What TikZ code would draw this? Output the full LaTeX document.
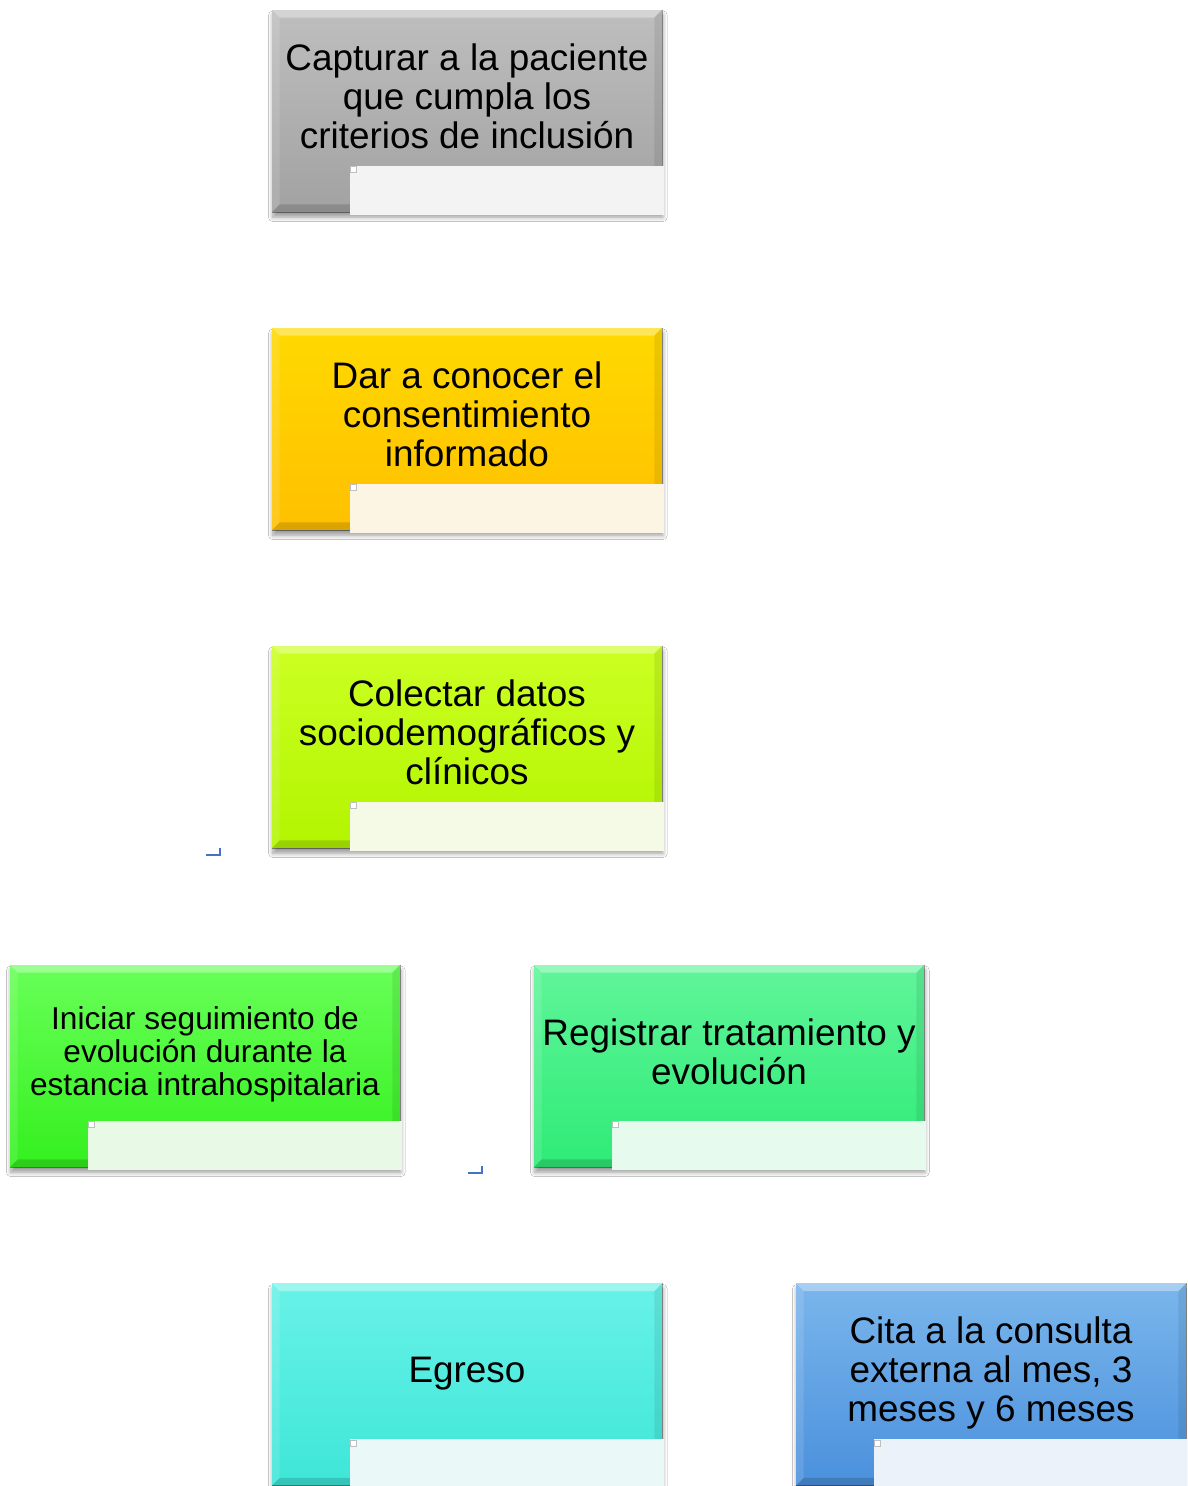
\documentclass[tikz,border=0pt]{standalone}
\usepackage{fontspec}
\setmainfont{Liberation Sans}
\usetikzlibrary{shadows.blur}
\definecolor{markblue}{HTML}{4472C4}
\definecolor{gtop}{HTML}{BEBEBE}\definecolor{gbot}{HTML}{A2A2A2}\definecolor{gcov}{HTML}{F3F3F3}
\definecolor{otop}{HTML}{FFD900}\definecolor{obot}{HTML}{FFC000}\definecolor{ocov}{HTML}{FCF5E3}
\definecolor{ytop}{HTML}{CCFF22}\definecolor{ybot}{HTML}{B2F500}\definecolor{ycov}{HTML}{F4FAE6}
\definecolor{ltop}{HTML}{68FF58}\definecolor{lbot}{HTML}{34F01E}\definecolor{lcov}{HTML}{E8FAE6}
\definecolor{mtop}{HTML}{60F59A}\definecolor{mbot}{HTML}{2EEB76}\definecolor{mcov}{HTML}{E6FAEE}
\definecolor{ttop}{HTML}{68F2E8}\definecolor{tbot}{HTML}{3EE6D8}\definecolor{tcov}{HTML}{EAF9F8}
\definecolor{btop}{HTML}{7AB6EC}\definecolor{bbot}{HTML}{4A90DC}\definecolor{bcov}{HTML}{EBF2FA}
\tikzset{
  boxbase/.style={rectangle, minimum width=7.8cm, minimum height=4.04cm, inner sep=0pt,
    blur shadow={shadow xshift=0.5pt, shadow yshift=-3pt, shadow blur radius=2.5pt, shadow blur steps=6, shadow opacity=40}},
  bigtxt/.style={align=center, font=\fontsize{21}{22.1}\selectfont, inner sep=0pt},
  smalltxt/.style={align=center, font=\fontsize{18}{18.7}\selectfont, inner sep=0pt},
  cornermark/.style={draw=markblue, line width=1.2pt},
}
\newcommand\bevelbox[1]{%
  \fill[white,opacity=.35] (#1.north west) -- (#1.north east) -- ([xshift=-0.16cm,yshift=-0.16cm]#1.north east) -- ([xshift=0.16cm,yshift=-0.16cm]#1.north west) -- cycle;
  \fill[white,opacity=.12] (#1.north west) -- ([xshift=0.16cm,yshift=-0.16cm]#1.north west) -- ([xshift=0.16cm,yshift=0.16cm]#1.south west) -- (#1.south west) -- cycle;
  \fill[black,opacity=.14] (#1.south west) -- (#1.south east) -- ([xshift=-0.16cm,yshift=0.16cm]#1.south east) -- ([xshift=0.16cm,yshift=0.16cm]#1.south west) -- cycle;
  \fill[black,opacity=.08] (#1.north east) -- ([xshift=-0.16cm,yshift=-0.16cm]#1.north east) -- ([xshift=-0.16cm,yshift=0.16cm]#1.south east) -- (#1.south east) -- cycle;
  \draw[black,opacity=.35,line width=0.8pt] (#1.north east) -- (#1.south east) -- (#1.south west);
}
\newcommand\flowbox[8]{%
  \node[boxbase, top color=#4, bottom color=#5] (#1) at (#2,#3) {};
  \bevelbox{#1}
  \node[#7] (#1t) at ([yshift=0.3cm]#1.center) {#8};
  \fill[#6] ([xshift=1.56cm,yshift=-3.12cm]#1.north west) rectangle ([xshift=0.04cm,yshift=-0.06cm]#1.south east);
  \draw[black!25, fill=white, line width=0.3pt] ([xshift=1.58cm,yshift=-3.14cm]#1.north west) rectangle +(0.12cm,-0.12cm);
}
\begin{document}
\begin{tikzpicture}[x=0.02cm,y=-0.02cm]
\useasboundingbox (0,0) rectangle (1187,1486);
\fill[white] (0,0) rectangle (1187,1486);
\clip (0,0) rectangle (1187,1486);

\flowbox{b1}{467}{111}{gtop}{gbot}{gcov}{bigtxt}{Capturar a la paciente\\que cumpla los\\criterios de inclusión}
\flowbox{b2}{467}{429}{otop}{obot}{ocov}{bigtxt}{Dar a conocer el\\consentimiento\\informado}
\flowbox{b3}{467}{747}{ytop}{ybot}{ycov}{bigtxt}{Colectar datos\\sociodemográficos y\\clínicos}
\flowbox{b4}{205}{1066}{ltop}{lbot}{lcov}{smalltxt,yshift=-0.06cm}{Iniciar seguimiento de\\evolución durante la\\estancia intrahospitalaria}
\flowbox{b5}{729}{1066}{mtop}{mbot}{mcov}{bigtxt,yshift=-0.02cm}{Registrar tratamiento y\\evolución}
\flowbox{b6}{467}{1384.5}{ttop}{tbot}{tcov}{bigtxt,yshift=-0.08cm}{Egreso}
\flowbox{b7}{991}{1384.5}{btop}{bbot}{bcov}{bigtxt,yshift=-0.07cm}{Cita a la consulta\\externa al mes, 3\\meses y 6 meses}

\coordinate (m1) at (220,855);
\coordinate (m2) at (482,1173);
\draw[cornermark] ([xshift=-0.28cm]m1) -- (m1) -- ([yshift=0.14cm]m1);
\draw[cornermark] ([xshift=-0.28cm]m2) -- (m2) -- ([yshift=0.14cm]m2);
\end{tikzpicture}
\end{document}
